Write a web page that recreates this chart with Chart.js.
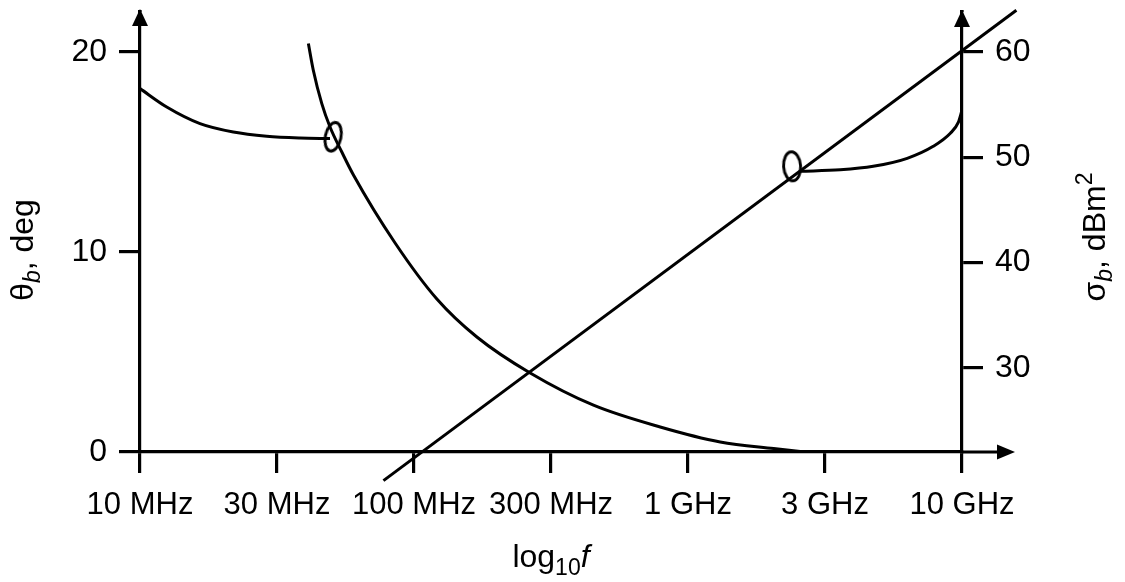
<!DOCTYPE html>
<html>
<head>
<meta charset="utf-8">
<script src="https://cdn.jsdelivr.net/npm/chart.js@4.4.1/dist/chart.umd.min.js"></script>
<style>
  html, body { margin: 0; padding: 0; background: #fff; }
</style>
</head>
<body>
<canvas id="chart" width="1125" height="582"></canvas>
<script>
// x positions are half-decade steps: 0 = 10 MHz ... 6 = 10 GHz
const freqLabels = ['10 MHz', '30 MHz', '100 MHz', '300 MHz', '1 GHz', '3 GHz', '10 GHz'];

// theta_b (left axis, deg)
const thetaFlatX = [0, 0.195, 0.438, 0.681, 0.925, 1.168, 1.387];
const thetaFlatY = [18.17, 17.25, 16.42, 16.0, 15.79, 15.70, 15.67];

const thetaSteepX = [1.229, 1.265, 1.327, 1.387, 1.473, 1.558, 1.862, 2.167, 2.459, 2.848, 3.310, 3.797, 4.235, 4.625, 4.819];
const thetaSteepY = [20.42, 19.09, 17.42, 16.25, 15.0, 13.85, 10.45, 7.65, 5.75, 3.95, 2.34, 1.25, 0.50, 0.17, 0.03];

// sigma_b (right axis, dBm^2)
const sigmaLineX = [1.777, 6.397];
const sigmaLineY = [19.28, 63.95];

const sigmaCurveX = [4.819, 5.111, 5.352, 5.600, 5.790, 5.915, 5.973, 6.0];
const sigmaCurveY = [48.66, 48.80, 49.13, 49.89, 51.03, 52.27, 53.31, 54.45];

// ellipse markers
const markerTheta = { x: 1.41, y: 15.76 };
const markerSigma = { x: 4.76, y: 49.13 };

const thetaTicks = [0, 10, 20];
const sigmaTicks = [30, 40, 50, 60];

const FONT = '"Liberation Sans", Arial, Helvetica, sans-serif';

function pts(xs, ys) {
    return xs.map((x, i) => ({ x: x, y: ys[i] }));
}

function ellipseMarker(rx, ry, lw) {
    const c = document.createElement('canvas');
    c.width = Math.ceil(2 * rx + lw + 4);
    c.height = Math.ceil(2 * ry + lw + 4);
    const g = c.getContext('2d');
    g.lineWidth = lw;
    g.strokeStyle = '#000';
    g.beginPath();
    g.ellipse(c.width / 2, c.height / 2, rx, ry, 0, 0, 2 * Math.PI);
    g.stroke();
    return c;
}

// draw a run of text pieces (for sub/superscripts), centred on (x, y) baseline
function drawRuns(ctx, runs, x, y, angle) {
    ctx.save();
    ctx.translate(x, y);
    ctx.rotate(angle);
    ctx.textBaseline = 'alphabetic';
    ctx.textAlign = 'left';
    ctx.fillStyle = '#000';
    let total = 0;
    runs.forEach(r => { ctx.font = r.font; r.w = ctx.measureText(r.t).width; total += r.w; });
    let cx = -total / 2;
    runs.forEach(r => {
        ctx.font = r.font;
        ctx.fillText(r.t, cx, r.dy || 0);
        cx += r.w;
    });
    ctx.restore();
}

const decorations = {
    id: 'decorations',
    afterDraw(chart) {
        const ctx = chart.ctx;
        const a = chart.chartArea;
        ctx.save();
        ctx.fillStyle = '#000';
        ctx.strokeStyle = '#000';
        ctx.lineWidth = 3.2;

        // axis extensions
        ctx.beginPath();
        ctx.moveTo(a.left, a.top);
        ctx.lineTo(a.left, a.top - 2);
        ctx.moveTo(a.right, a.top);
        ctx.lineTo(a.right, a.top - 2);
        ctx.moveTo(a.right, a.bottom);
        ctx.lineTo(a.right + 40, a.bottom);
        ctx.stroke();

        // arrow heads
        function up(x, tipY) {
            ctx.beginPath();
            ctx.moveTo(x, tipY);
            ctx.lineTo(x - 8, tipY + 17);
            ctx.lineTo(x + 8, tipY + 17);
            ctx.closePath();
            ctx.fill();
        }
        up(a.left, a.top - 3);
        up(a.right, a.top - 2);
        ctx.beginPath();
        ctx.moveTo(a.right + 53, a.bottom);
        ctx.lineTo(a.right + 35, a.bottom - 7.5);
        ctx.lineTo(a.right + 35, a.bottom + 7.5);
        ctx.closePath();
        ctx.fill();
        ctx.restore();

        const big = '32px ' + FONT;
        const sub = 'italic 23px ' + FONT;
        const small = '23px ' + FONT;
        const midY = (a.top + a.bottom) / 2;

        drawRuns(ctx, [
            { t: 'θ', font: big },
            { t: 'b', font: sub, dy: 7 },
            { t: ', deg', font: big }
        ], 33, midY + 18, -Math.PI / 2);

        drawRuns(ctx, [
            { t: 'σ', font: big },
            { t: 'b', font: sub, dy: 7 },
            { t: ', dBm', font: big },
            { t: '2', font: small, dy: -13 }
        ], 1105, midY + 5, -Math.PI / 2);

        drawRuns(ctx, [
            { t: 'log', font: big },
            { t: '10', font: small, dy: 8 },
            { t: 'f', font: 'italic 32px ' + FONT }
        ], (a.left + a.right) / 2, 567, 0);
    }
};

const lineStyle = {
    borderColor: '#000',
    borderWidth: 3,
    pointRadius: 0,
    fill: false,
    cubicInterpolationMode: 'monotone'
};

const axisBase = {
    grid: {
        display: true,
        drawOnChartArea: false,
        drawTicks: true,
        tickLength: 21,
        color: '#000',
        lineWidth: 3.2
    },
    border: { display: true, color: '#000', width: 3.2 }
};

function noPad(s) {
    s.paddingTop = 0;
    s.paddingBottom = 0;
    s.paddingLeft = 0;
    s.paddingRight = 0;
}

new Chart(document.getElementById('chart').getContext('2d'), {
    type: 'line',
    data: {
        datasets: [
            Object.assign({ data: pts(thetaFlatX, thetaFlatY), yAxisID: 'yL' }, lineStyle),
            Object.assign({ data: pts(thetaSteepX, thetaSteepY), yAxisID: 'yL' }, lineStyle),
            Object.assign({ data: pts(sigmaLineX, sigmaLineY), yAxisID: 'yR', clip: false }, lineStyle, { cubicInterpolationMode: 'default', tension: 0 }),
            Object.assign({ data: pts(sigmaCurveX, sigmaCurveY), yAxisID: 'yR' }, lineStyle),
            {
                data: [markerTheta], yAxisID: 'yL', showLine: false,
                pointStyle: ellipseMarker(7.8, 14.5, 2.9), pointRadius: 10, pointRotation: 12,
                borderColor: '#000', backgroundColor: 'transparent'
            },
            {
                data: [markerSigma], yAxisID: 'yR', showLine: false,
                pointStyle: ellipseMarker(8.5, 14.5, 2.9), pointRadius: 10, pointRotation: -4,
                borderColor: '#000', backgroundColor: 'transparent'
            }
        ]
    },
    options: {
        responsive: false,
        animation: false,
        devicePixelRatio: 1,
        layout: { padding: { top: 12, left: 0, right: 0, bottom: 0 } },
        plugins: { legend: { display: false }, tooltip: { enabled: false } },
        events: [],
        scales: {
            x: Object.assign({}, axisBase, {
                type: 'linear',
                min: 0,
                max: 6,
                afterFit(s) { s.height = 130; noPad(s); },
                afterBuildTicks(s) { s.ticks = freqLabels.map((l, i) => ({ value: i })); },
                ticks: {
                    autoSkip: false,
                    maxRotation: 0,
                    padding: 14,
                    color: '#000',
                    font: { family: FONT, size: 31 },
                    callback: (v) => freqLabels[v]
                }
            }),
            yL: Object.assign({}, axisBase, {
                type: 'linear',
                position: 'left',
                min: 0,
                max: 22,
                afterFit(s) { s.width = 140; noPad(s); },
                afterBuildTicks(s) { s.ticks = thetaTicks.map(v => ({ value: v })); },
                ticks: {
                    padding: 12,
                    color: '#000',
                    font: { family: FONT, size: 32 }
                }
            }),
            yR: Object.assign({}, axisBase, {
                type: 'linear',
                position: 'right',
                min: 22,
                max: 22 + 440 / 10.53,
                afterFit(s) { s.width = 163; noPad(s); },
                afterBuildTicks(s) { s.ticks = sigmaTicks.map(v => ({ value: v })); },
                ticks: {
                    padding: 12,
                    color: '#000',
                    font: { family: FONT, size: 32 }
                }
            })
        }
    },
    plugins: [decorations]
});
</script>
</body>
</html>
